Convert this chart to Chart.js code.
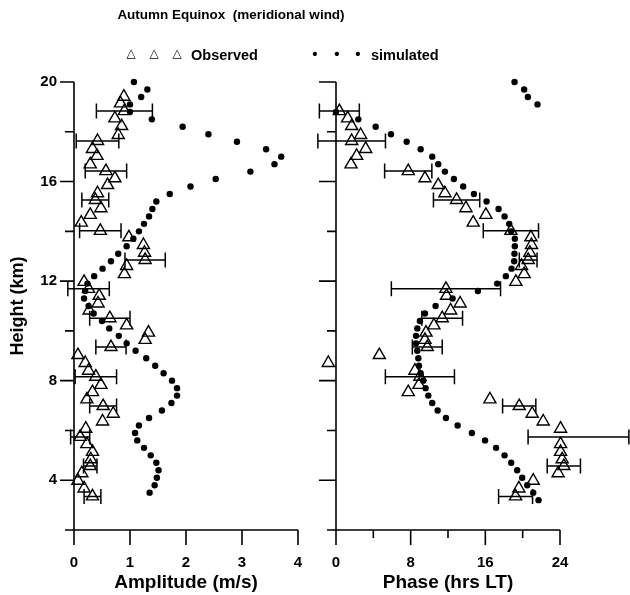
<!DOCTYPE html>
<html>
<head>
<meta charset="utf-8">
<script src="https://cdn.jsdelivr.net/npm/chart.js@4.4.0/dist/chart.umd.min.js"></script>
<style>
  html, body { margin: 0; padding: 0; background: #fff; }
  #wrap { position: relative; width: 630px; height: 595px; overflow: hidden;
          font-family: "Liberation Sans", Arial, sans-serif; font-weight: bold; color: #000; }
  canvas { position: absolute; top: 0; }
  .txt { position: absolute; white-space: pre; }
  .sym { position: absolute; transform: translateX(-50%); }
</style>
</head>
<body>
<div id="wrap">
  <canvas id="ampChart" width="314" height="595" style="left:0"></canvas>
  <canvas id="phaseChart" width="316" height="595" style="left:314px"></canvas>

  <div class="txt" style="left:0;width:462px;top:8px;font-size:13.5px;line-height:13px;text-align:center">Autumn Equinox  (meridional wind)</div>

  <span class="sym" style="left:131px;top:46px;font:12px 'DejaVu Sans';line-height:14px">△</span>
  <span class="sym" style="left:154px;top:46px;font:12px 'DejaVu Sans';line-height:14px">△</span>
  <span class="sym" style="left:177px;top:46px;font:12px 'DejaVu Sans';line-height:14px">△</span>
  <div class="txt" style="left:191px;top:48px;font-size:14.5px;line-height:14px">Observed</div>

  <span class="sym" style="left:315px;top:47px;font-size:15px;line-height:14px">•</span>
  <span class="sym" style="left:337px;top:47px;font-size:15px;line-height:14px">•</span>
  <span class="sym" style="left:358px;top:47px;font-size:15px;line-height:14px">•</span>
  <div class="txt" style="left:371px;top:48px;font-size:14.5px;line-height:14px">simulated</div>
</div>

<script>
// observed (triangles), one value per height
const obsHeights = [3.35, 3.67, 3.98, 4.28, 4.57, 4.84, 5.14, 5.45, 5.74, 6.07,
  6.36, 6.67, 6.98, 7.25, 7.54, 7.83, 8.16, 8.40, 8.71, 9.03,
  9.35, 9.64, 9.93, 10.22, 10.51, 10.82, 11.10, 11.41, 11.69, 11.97,
  12.28, 12.61, 12.85, 13.14, 13.45, 13.76, 14.02, 14.35, 14.66, 14.93,
  15.26, 15.53, 15.86, 16.13, 16.42, 16.69, 17.03, 17.31, 17.63, 17.87,
  18.23, 18.54, 18.83, 19.14, 19.41];

const obsAmplitude = [0.33, 0.18, 0.07, 0.14, 0.29, 0.30, 0.33, 0.23, 0.11, 0.21,
  0.51, 0.70, 0.52, 0.23, 0.33, 0.48, 0.39, 0.26, 0.20, 0.07,
  0.66, 1.27, 1.33, 0.94, 0.64, 0.27, 0.43, 0.45, 0.26, 0.18,
  0.90, 0.94, 1.27, 1.26, 1.24, 0.98, 0.47, 0.13, 0.29, 0.48,
  0.38, 0.42, 0.60, 0.73, 0.57, 0.29, 0.41, 0.33, 0.42, 0.79,
  0.85, 0.73, 0.90, 0.83, 0.89];

const obsAmplitudeErr = [0.15, null, null, null, 0.12, null, null, null, 0.17, null,
  null, null, 0.24, null, null, null, 0.37, null, null, null,
  0.27, null, null, null, 0.36, null, null, null, 0.37, null,
  null, null, 0.36, null, null, null, 0.37, null, null, null,
  0.24, null, null, null, 0.37, null, null, null, 0.38, null,
  null, null, 0.50, null, null];

const obsPhase = [19.24, 19.59, 21.13, 23.80, 24.41, 24.23, 24.06, 24.06, 25.98, 24.06,
  22.20, 21.02, 19.63, 16.49, 7.74, 8.89, 8.99, 8.46, -0.82, 4.64,
  9.78, 9.53, 9.64, 10.49, 11.38, 12.28, 13.30, 11.85, 11.78, 19.27,
  20.16, 19.88, 20.59, 20.77, 20.95, 20.88, 18.74, 14.70, 16.06, 13.92,
  12.92, 11.67, 10.95, 9.53, 7.74, 1.61, 2.21, 3.18, 1.68, 2.64,
  1.68, 1.25, 0.36, 26.55, 25.88];

const obsPhaseErr = [1.82, null, null, null, 1.78, null, null, null, 5.4, null,
  null, null, 1.78, null, null, null, 3.7, null, null, null,
  1.6, null, null, null, 2.18, null, null, null, 5.85, null,
  null, null, 0.95, null, null, null, 2.96, null, null, null,
  2.48, null, null, null, 2.53, null, null, null, 3.62, null,
  null, null, 2.14, null, null];

// simulated (dots)
const simHeights = [3.2, 3.5, 3.8, 4.1, 4.4, 4.7, 5.0, 5.3, 5.6, 5.9,
  6.2, 6.5, 6.8, 7.1, 7.4, 7.7, 8.0, 8.3, 8.6, 8.9,
  9.2, 9.5, 9.8, 10.1, 10.4, 10.7, 11.0, 11.3, 11.6, 11.9,
  12.2, 12.5, 12.8, 13.1, 13.4, 13.7, 14.0, 14.3, 14.6, 14.9,
  15.2, 15.5, 15.8, 16.1, 16.4, 16.7, 17.0, 17.3, 17.6, 17.9,
  18.2, 18.5, 18.8, 19.1, 19.4, 19.7, 20.0];

const simAmplitude = [null, 1.35, 1.44, 1.48, 1.51, 1.47, 1.37, 1.25, 1.13, 1.09,
  1.16, 1.34, 1.57, 1.74, 1.84, 1.84, 1.75, 1.60, 1.45, 1.29,
  1.10, 0.94, 0.80, 0.63, 0.50, 0.35, 0.26, 0.18, 0.20, 0.24,
  0.36, 0.51, 0.66, 0.79, 0.94, 1.06, 1.16, 1.25, 1.34, 1.40,
  1.47, 1.71, 2.08, 2.53, 3.15, 3.58, 3.70, 3.43, 2.91, 2.40,
  1.94, 1.39, 1.00, 1.00, 1.20, 1.31, 1.07];

const simPhase = [21.70, 21.13, 20.49, 19.95, 19.41, 18.77, 18.06, 17.15, 15.97, 14.56,
  13.03, 11.78, 10.89, 10.31, 9.89, 9.60, 9.35, 9.07, 8.89, 8.82,
  8.71, 8.57, 8.57, 8.71, 8.99, 9.53, 10.67, 12.49, 15.20, 17.27,
  18.20, 18.81, 19.09, 19.12, 19.16, 19.16, 18.77, 18.56, 18.06, 17.42,
  16.13, 14.78, 13.63, 12.63, 11.67, 10.95, 10.31, 9.07, 7.57, 5.89,
  4.25, 2.39, 0.00, 21.59, 20.56, 20.16, 19.13];

const heightTicks = [2, 4, 6, 8, 10, 12, 14, 16, 18, 20];
const heightLabels = [4, 8, 12, 16, 20];
const ampTicks = [0, 1, 2, 3, 4];
const phaseTicks = [0, 4, 8, 12, 16, 20, 24];
const phaseLabels = [0, 8, 16, 24];

Chart.defaults.font.family = '"Liberation Sans", Arial, sans-serif';
Chart.defaults.font.weight = 'bold';
Chart.defaults.color = '#000';

function toPoints(xs, ys) {
  const pts = [];
  xs.forEach((x, i) => { if (x != null) pts.push({ x: x, y: ys[i] }); });
  return pts;
}

// hand-drawn axes, ticks and error bars, positioned through the chart scales
function panelPlugin(cfg) {
  return {
    id: 'panel',
    beforeDatasetsDraw(chart) {
      const ctx = chart.ctx, xs = chart.scales.x, ys = chart.scales.y;
      ctx.save();
      ctx.strokeStyle = '#000';
      ctx.lineWidth = 1.5;
      cfg.err.forEach((e, i) => {
        if (e == null) return;
        const y = ys.getPixelForValue(obsHeights[i]);
        const x1 = xs.getPixelForValue(cfg.values[i] - e);
        const x2 = xs.getPixelForValue(cfg.values[i] + e);
        ctx.beginPath();
        ctx.moveTo(x1, y); ctx.lineTo(x2, y);
        ctx.moveTo(x1, y - 7.5); ctx.lineTo(x1, y + 7.5);
        ctx.moveTo(x2, y - 7.5); ctx.lineTo(x2, y + 7.5);
        ctx.stroke();
      });
      ctx.restore();
    },
    afterDraw(chart) {
      const ctx = chart.ctx, xs = chart.scales.x, ys = chart.scales.y;
      const a = chart.chartArea;
      ctx.save();
      ctx.strokeStyle = '#000';
      ctx.lineWidth = 1.6;
      ctx.beginPath();
      ctx.moveTo(a.left, a.top); ctx.lineTo(a.left, a.bottom);
      heightTicks.forEach(v => {
        const y = ys.getPixelForValue(v);
        const len = heightLabels.includes(v) ? cfg.yMajor : 9;
        ctx.moveTo(a.left - len, y); ctx.lineTo(a.left, y);
      });
      ctx.moveTo(a.left, a.bottom); ctx.lineTo(a.right, a.bottom);
      cfg.xTicks.forEach(v => {
        const x = xs.getPixelForValue(v);
        const len = cfg.xLabels.includes(v) ? 15 : 8;
        ctx.moveTo(x, a.bottom); ctx.lineTo(x, a.bottom + len);
      });
      ctx.stroke();
      ctx.restore();
    }
  };
}

// invisible library grid: only used to push the tick labels away from the axis
const hiddenGrid = len => ({
  display: true, drawOnChartArea: false, drawTicks: true,
  tickLength: len, color: 'rgba(0,0,0,0)'
});

function makePanel(id, cfg) {
  return new Chart(document.getElementById(id), {
    type: 'scatter',
    data: {
      datasets: [{
        label: 'simulated',
        data: toPoints(cfg.sim, simHeights),
        pointStyle: 'circle',
        pointRadius: 3.2,
        backgroundColor: '#000',
        borderWidth: 0,
        clip: false
      }, {
        label: 'Observed',
        data: toPoints(cfg.values, obsHeights),
        pointStyle: 'triangle',
        pointRadius: 7,
        backgroundColor: 'rgba(0,0,0,0)',
        borderColor: '#000',
        borderWidth: 1.4,
        clip: false
      }]
    },
    options: {
      responsive: false,
      animation: false,
      devicePixelRatio: 1,
      layout: { autoPadding: false, padding: { top: 82, right: cfg.padRight, left: 0, bottom: 0 } },
      plugins: { legend: { display: false }, tooltip: { enabled: false } },
      scales: {
        x: {
          type: 'linear',
          min: cfg.min, max: cfg.max,
          afterBuildTicks: s => { s.ticks = cfg.xTicks.map(v => ({ value: v })); },
          grid: hiddenGrid(22),
          border: { display: false },
          ticks: {
            padding: 2,
            font: { size: 15, weight: 'bold' },
            maxRotation: 0,
            callback: v => cfg.xLabels.includes(v) ? String(v) : ''
          },
          title: {
            display: true, text: cfg.title,
            font: { size: 19, weight: 'bold', lineHeight: 1 },
            padding: { top: 0, bottom: 3 }
          },
          afterFit: s => { s.height = 65; }
        },
        y: {
          type: 'linear',
          min: 2, max: 20,
          afterBuildTicks: s => { s.ticks = heightTicks.map(v => ({ value: v })); },
          grid: hiddenGrid(15),
          border: { display: false },
          ticks: {
            display: cfg.yLabels,
            padding: 2,
            font: { size: 15, weight: 'bold' },
            callback: v => heightLabels.includes(v) ? String(v) : ''
          },
          title: {
            display: cfg.yLabels, text: 'Height (km)',
            font: { size: 18, weight: 'bold', lineHeight: 1 },
            padding: { top: 9, bottom: 0 }
          },
          afterFit: s => { s.width = cfg.yWidth; }
        }
      }
    },
    plugins: [panelPlugin(cfg)]
  });
}

makePanel('ampChart', {
  sim: simAmplitude, values: obsAmplitude, err: obsAmplitudeErr,
  min: 0, max: 4, xTicks: ampTicks, xLabels: ampTicks,
  title: 'Amplitude (m/s)', yLabels: true, yWidth: 74, yMajor: 14, padRight: 16
});

makePanel('phaseChart', {
  sim: simPhase, values: obsPhase, err: obsPhaseErr,
  min: 0, max: 24, xTicks: phaseTicks, xLabels: phaseLabels,
  title: 'Phase (hrs LT)', yLabels: false, yWidth: 22, yMajor: 17, padRight: 70
});
</script>
</body>
</html>
